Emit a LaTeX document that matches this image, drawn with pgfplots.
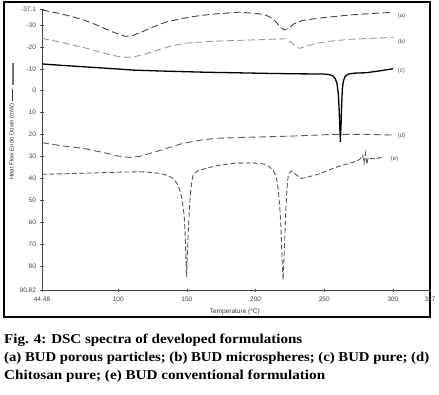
\documentclass[border=0pt]{standalone}
\usepackage{fontspec}
\setmainfont{Liberation Sans}
\newfontfamily\capfont{Liberation Serif}
\usepackage{graphicx}
\usepackage{pgfplots}
\pgfplotsset{compat=1.18}
\begin{document}
\begin{tikzpicture}
\path[use as bounding box] (0,0) rectangle (439pt,-394pt);
\draw[line width=1.1pt] (4pt,-2pt) rectangle (430pt,-317pt);
\begin{axis}[
  at={(42pt,-290pt)}, anchor=south west,
  scale only axis, width=388pt, height=280.7pt,
  xmin=44.48, xmax=327, ymin=-37.1, ymax=90.82,
  y dir=reverse,
  axis x line*=bottom, axis y line*=left,
  axis line style={black!75, line width=0.8pt},
  xtick={44.48,100,150,200,250,300,327},
  xticklabels={44.48,100,150,200,250,300,327},
  ytick={-37.1,-30,-20,-10,0,10,20,30,40,50,60,70,80,90.82},
  yticklabels={-37.1,-30,-20,-10,0,10,20,30,40,50,60,70,80,90.82},
  tick align=center, major tick length=3pt,
  tick style={black!70, line width=0.5pt},
  ticklabel style={font=\fontsize{6.5}{7}\selectfont, text=black!75},
  /pgf/number format/assume math mode=true,
  xticklabel style={yshift=-2pt},
  yticklabel style={xshift=-1pt},
  xlabel={Temperature (°C)},
  xlabel style={font=\fontsize{6.5}{7}\selectfont, text=black!80, at={(axis description cs:0.497,0)}, anchor=north, yshift=-15pt},
  ylabel={Heat Flow Endo Down (mW)\ \ \rule[0.3ex]{12pt}{0.5pt}\ \ \textcolor{black!55}{\rule[0ex]{22pt}{2pt}}},
  ylabel style={font=\fontsize{6}{7}\selectfont, text=black!80, at={(axis description cs:-0.077,0.6)}, anchor=center},
  clip=false,
]
% (a)
\addplot[black!75, line width=0.9pt, dash pattern=on 7pt off 3.5pt] coordinates {
(44.48,-36.8) (55,-35.5) (65,-34) (75,-32.2) (85,-29.8) (95,-27) (105,-24.8) (110,-25) (118,-27) (125,-29) (135,-31.3) (147,-33) (160,-34.3) (171,-35) (180,-35.4) (188,-35.8) (196,-35.4) (203,-35) (208,-34.3) (212,-33) (215,-31.3) (218,-29) (221,-27.7) (224,-28.5) (228,-30.5) (234,-32) (245,-33) (256,-33.7) (268,-34.5) (280,-35) (290,-35.4) (300,-35.7)};
% (b)
\addplot[black!40, line width=0.9pt, dash pattern=on 7pt off 3.5pt] coordinates {
(44.48,-23.9) (60,-21.8) (75,-19.7) (90,-17) (100,-15.6) (106,-15.2) (112,-15.5) (120,-16.8) (130,-18.8) (140,-20.6) (150,-21.7) (165,-22.4) (180,-22.8) (196,-23.1) (210,-23.4) (222,-23.7) (226,-22) (230,-20) (232,-19.3) (236,-20.2) (244,-21.6) (256,-22.7) (268,-23.4) (285,-23.9) (300,-24.3)};
% (c)
\addplot[black, line width=1.3pt] coordinates {
(44.48,-12.2) (60,-11.5) (75,-10.9) (90,-10.3) (111,-9.4) (130,-9) (147,-8.7) (165,-8.4) (184,-8.2) (208,-7.9) (230,-7.7) (250,-7.6) (254,-7.3) (256.4,-6.7) (258,-5.5) (259.3,-3.3) (260.3,2) (260.8,8) (261.3,16) (261.7,23.3) (262.2,16) (262.7,6) (263.2,-1) (264,-4.5) (265,-6.3) (267.3,-7.6) (272,-8) (280.6,-8.2) (290,-9) (300,-10)};
% (d)
\addplot[black!65, line width=0.9pt, dash pattern=on 7pt off 3.5pt] coordinates {
(44.48,23.7) (60,25.2) (75,26.3) (90,28.3) (100,29.8) (108.5,30.4) (115,30) (123,28.6) (135,26.3) (147,24) (160,22.5) (171,21.7) (190,21.3) (208,21) (230,20.6) (256,19.9) (280,19.9) (300,20.2)};
% (e)
\addplot[black!65, line width=0.9pt, dash pattern=on 5pt off 2.5pt] coordinates {
(44.48,38.1) (70,37.7) (90,37.3) (115.8,36.9) (125,37.3) (130.3,37.7) (136,38.6) (140,40) (143,42.5) (144.8,45.3) (146.3,49) (147.3,52.9) (148.1,58) (148.7,65) (149.2,75) (149.7,84.8) (150.3,75) (150.9,65) (151.7,55) (152.6,46.8) (153.5,41.5) (154.5,38.4) (157,36.8) (159.4,36.2) (165,35.2) (171.5,34.2) (183.6,33.1) (195,32.9) (203,33.1) (207,33.6) (210.3,34.7) (213,36.5) (215,39.2) (216.5,45) (217.6,52.9) (218.3,60) (218.8,68) (219.4,78) (220,86.3) (220.6,78) (221.2,68) (221.8,58) (222.4,49.8) (223.2,42) (224,37.7) (226,36.6) (228,37.5) (230,38.5) (233.3,40) (237,39.5) (245,38.2) (256.4,35.4) (263,34) (268.5,33.1) (273,32.2) (275.8,31.3) (278,29.5) (279,33) (280,28.5) (281,33.5) (282,30.5) (284,31) (285.5,30.8) (288,31.2) (290,30.5) (293,30.6)};
\begin{scope}[font=\fontsize{6}{7}\selectfont, text=black!70]
\node[anchor=west] at (axis cs:301,-34) {(a)};
\node[anchor=west] at (axis cs:301,-22.2) {(b)};
\node[anchor=west] at (axis cs:301,-9) {(c)};
\node[anchor=west] at (axis cs:301,20.6) {(d)};
\node[anchor=west] at (axis cs:296,31) {(e)};
\end{scope}
\end{axis}
\begin{scope}[font=\capfont\bfseries\fontsize{13.5}{16}\selectfont]
\node[anchor=base west, inner sep=0pt] at (4pt,-343pt) {\resizebox{298pt}{\height}{Fig. 4: DSC spectra of developed formulations}};
\node[anchor=base west, inner sep=0pt] at (4pt,-361pt) {\resizebox{425pt}{\height}{(a) BUD porous particles; (b) BUD microspheres; (c) BUD pure; (d)}};
\node[anchor=base west, inner sep=0pt] at (4pt,-379pt) {\resizebox{321pt}{\height}{Chitosan pure; (e) BUD conventional formulation}};
\end{scope}
\end{tikzpicture}
\end{document}
